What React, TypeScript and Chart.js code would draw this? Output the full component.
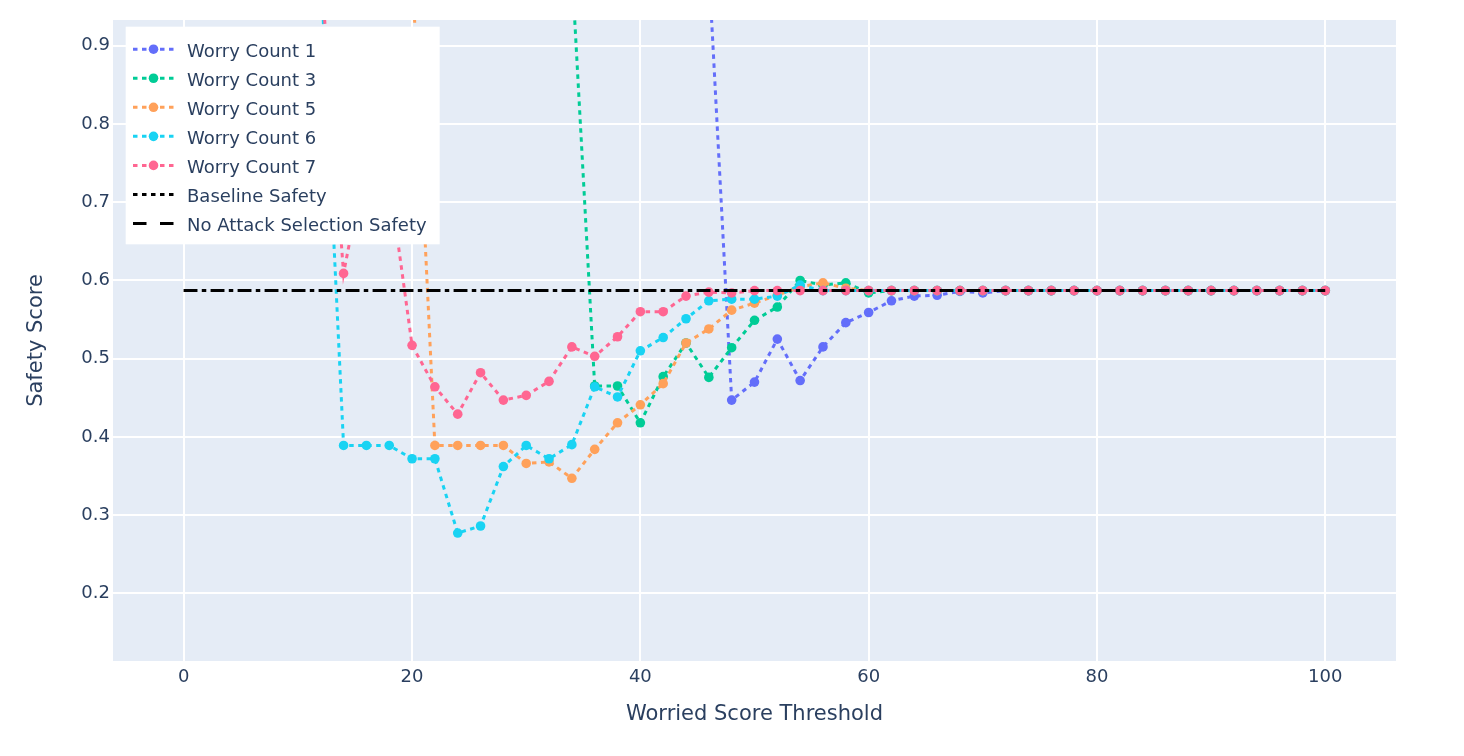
import React, { useEffect, useRef } from "react";
import { Chart, registerables } from "chart.js";

Chart.register(...registerables);

// ---------- data ----------
const thresholds = [
  0, 2, 4, 6, 8, 10, 12, 14, 16, 18, 20, 22, 24, 26, 28, 30, 32, 34, 36, 38, 40,
  42, 44, 46, 48, 50, 52, 54, 56, 58, 60, 62, 64, 66, 68, 70, 72, 74, 76, 78, 80,
  82, 84, 86, 88, 90, 92, 94, 96, 98, 100,
];

const worryCount1 = [
  1.0, 1.0, 1.0, 1.0, 1.0, 1.0, 1.0, 1.0, 1.0, 1.0, 1.0, 1.0, 1.0, 1.0, 1.0, 1.0,
  1.0, 1.0, 1.0, 1.0, 1.0, 1.0, 1.0, 1.0, 0.447, 0.47, 0.525, 0.472, 0.515, 0.546,
  0.559, 0.574, 0.58, 0.581, 0.586, 0.584, 0.587, 0.587, 0.587, 0.587, 0.587,
  0.587, 0.587, 0.587, 0.587, 0.587, 0.587, 0.587, 0.587, 0.587, 0.587,
];

const worryCount3 = [
  1.0, 1.0, 1.0, 1.0, 1.0, 1.0, 1.0, 1.0, 1.0, 1.0, 1.0, 1.0, 1.0, 1.0, 1.0, 1.0,
  1.0, 1.0, 0.465, 0.465, 0.418, 0.477, 0.52, 0.476, 0.514, 0.549, 0.566, 0.6,
  0.594, 0.597, 0.584, 0.587, 0.587, 0.587, 0.587, 0.587, 0.587, 0.587, 0.587,
  0.587, 0.587, 0.587, 0.587, 0.587, 0.587, 0.587, 0.587, 0.587, 0.587, 0.587,
  0.587,
];

const worryCount5 = [
  1.0, 1.0, 1.0, 1.0, 1.0, 1.0, 1.0, 1.0, 1.0, 1.0, 1.0, 0.389, 0.389, 0.389,
  0.389, 0.366, 0.368, 0.347, 0.384, 0.418, 0.441, 0.468, 0.52, 0.538, 0.562,
  0.571, 0.581, 0.592, 0.597, 0.59, 0.587, 0.587, 0.587, 0.587, 0.587, 0.587,
  0.587, 0.587, 0.587, 0.587, 0.587, 0.587, 0.587, 0.587, 0.587, 0.587, 0.587,
  0.587, 0.587, 0.587, 0.587,
];

const worryCount6 = [
  1.0, 1.0, 1.0, 1.0, 1.0, 1.0, 1.0, 0.389, 0.389, 0.389, 0.372, 0.372, 0.277,
  0.286, 0.362, 0.389, 0.372, 0.39, 0.464, 0.451, 0.51, 0.527, 0.551, 0.574,
  0.576, 0.576, 0.58, 0.594, 0.587, 0.587, 0.587, 0.587, 0.587, 0.587, 0.587,
  0.587, 0.587, 0.587, 0.587, 0.587, 0.587, 0.587, 0.587, 0.587, 0.587, 0.587,
  0.587, 0.587, 0.587, 0.587, 0.587,
];

const worryCount7 = [
  1.0, 1.0, 1.0, 1.0, 1.0, 1.0, 1.0, 0.609, 0.76, 0.73, 0.517, 0.464, 0.429,
  0.482, 0.447, 0.453, 0.471, 0.515, 0.503, 0.528, 0.56, 0.56, 0.58, 0.585,
  0.584, 0.587, 0.587, 0.587, 0.587, 0.587, 0.587, 0.587, 0.587, 0.587, 0.587,
  0.587, 0.587, 0.587, 0.587, 0.587, 0.587, 0.587, 0.587, 0.587, 0.587, 0.587,
  0.587, 0.587, 0.587, 0.587, 0.587,
];

const referenceX = [0, 100];
const baselineSafety = [0.587, 0.587];
const noAttackSelectionSafety = [0.587, 0.587];

const seriesLabels = [
  "Worry Count 1",
  "Worry Count 3",
  "Worry Count 5",
  "Worry Count 6",
  "Worry Count 7",
];
const seriesColors = ["#636efa", "#00cc96", "#FFA15A", "#19d3f3", "#FF6692"];
const seriesValues = [worryCount1, worryCount3, worryCount5, worryCount6, worryCount7];

const xTicks = [0, 20, 40, 60, 80, 100];
const yTicks = [0.2, 0.3, 0.4, 0.5, 0.6, 0.7, 0.8, 0.9];

// ---------- styling ----------
const TEXT = "#2a3f5f";
const FONT = '"DejaVu Sans", Verdana, sans-serif';

const toPoints = (xs: number[], ys: number[]) => xs.map((x, i) => ({ x, y: ys[i] }));

const plotBg = {
  id: "plotBg",
  beforeDraw(chart: any) {
    const { ctx, chartArea: a } = chart;
    ctx.save();
    ctx.fillStyle = "#E5ECF6";
    ctx.fillRect(a.left, a.top, a.right - a.left, a.bottom - a.top);
    ctx.restore();
  },
};

const legendBox = {
  id: "legendBox",
  afterDraw(chart: any) {
    const { ctx, chartArea: a } = chart;
    const x0 = a.left + 12.7;
    const y0 = a.top + 6.7;
    const w = 314;
    const h = 217.6;
    ctx.save();
    ctx.fillStyle = "#ffffff";
    ctx.fillRect(x0, y0, w, h);
    chart.data.datasets.forEach((ds: any, i: number) => {
      const cy = y0 + 22.5 + i * 29.05;
      const sx = x0 + 7.3;
      const ex = x0 + 48.3;
      ctx.strokeStyle = ds.borderColor;
      ctx.lineWidth = 3;
      ctx.setLineDash(ds.borderDash || []);
      ctx.beginPath();
      ctx.moveTo(sx, cy);
      ctx.lineTo(ex, cy);
      ctx.stroke();
      ctx.setLineDash([]);
      if (ds.pointRadius > 0) {
        ctx.fillStyle = ds.backgroundColor;
        ctx.beginPath();
        ctx.arc((sx + ex) / 2, cy, 4.8, 0, Math.PI * 2);
        ctx.fill();
      }
      ctx.fillStyle = TEXT;
      ctx.font = `18px ${FONT}`;
      ctx.textBaseline = "alphabetic";
      ctx.textAlign = "left";
      ctx.fillText(ds.label, x0 + 61.3, cy + 7.6);
    });
    ctx.restore();
  },
};

export default function App() {
  const canvasRef = useRef<HTMLCanvasElement | null>(null);

  useEffect(() => {
    document.body.style.margin = "0";
    const canvas = canvasRef.current;
    if (!canvas) return;

    const datasets: any[] = seriesLabels.map((label, i) => ({
      label,
      data: toPoints(thresholds, seriesValues[i]),
      borderColor: seriesColors[i],
      backgroundColor: seriesColors[i],
      borderWidth: 3,
      borderDash: [4.5, 4.5],
      pointRadius: 4.8,
      pointHoverRadius: 4.8,
      pointBorderWidth: 0,
      tension: 0,
      showLine: true,
      clip: 0,
      order: -i,
    }));
    datasets.push({
      label: "Baseline Safety",
      data: toPoints(referenceX, baselineSafety),
      borderColor: "#000000",
      backgroundColor: "#000000",
      borderWidth: 3,
      borderDash: [4.5, 4.5],
      pointRadius: 0,
      pointHoverRadius: 0,
      showLine: true,
      clip: 0,
      order: -5,
    });
    datasets.push({
      label: "No Attack Selection Safety",
      data: toPoints(referenceX, noAttackSelectionSafety),
      borderColor: "#000000",
      backgroundColor: "#000000",
      borderWidth: 3,
      borderDash: [13.5, 13.5],
      pointRadius: 0,
      pointHoverRadius: 0,
      showLine: true,
      clip: 0,
      order: -6,
    });

    const chart = new Chart(canvas, {
      type: "scatter",
      data: { datasets },
      plugins: [plotBg, legendBox],
      options: {
        animation: false,
        responsive: false,
        events: [],
        layout: { padding: { left: 0, right: 68, top: 20, bottom: 0 } },
        plugins: {
          legend: { display: false },
          tooltip: { enabled: false },
        },
        scales: {
          x: {
            type: "linear",
            min: -6.2,
            max: 106.2,
            afterBuildTicks: (scale: any) => {
              scale.ticks = xTicks.map((v) => ({ value: v }));
            },
            afterFit: (scale: any) => {
              scale.height = 95;
            },
            grid: { color: "#ffffff", lineWidth: 2, drawTicks: false },
            border: { display: false },
            ticks: {
              autoSkip: false,
              maxRotation: 0,
              padding: 6,
              color: TEXT,
              font: { family: FONT, size: 18 },
              callback: (v: any) => String(v),
            },
            title: {
              display: true,
              text: "Worried Score Threshold",
              color: TEXT,
              font: { family: FONT, size: 21 },
              padding: { top: 0, bottom: 28.4 },
            },
          },
          y: {
            type: "linear",
            min: 0.1134,
            max: 0.933,
            afterBuildTicks: (scale: any) => {
              scale.ticks = yTicks.map((v) => ({ value: v }));
            },
            afterFit: (scale: any) => {
              scale.width = 113;
            },
            grid: { color: "#ffffff", lineWidth: 2, drawTicks: false },
            border: { display: false },
            ticks: {
              autoSkip: false,
              padding: 3,
              color: TEXT,
              font: { family: FONT, size: 18 },
              callback: (v: any) => Number(v).toFixed(1),
            },
            title: {
              display: true,
              text: "Safety Score",
              color: TEXT,
              font: { family: FONT, size: 21 },
              padding: { top: 23.5, bottom: 0 },
            },
          },
        },
      } as any,
    });

    return () => chart.destroy();
  }, []);

  return (
    <div style={{ width: 1464, height: 756, background: "#ffffff" }}>
      <canvas ref={canvasRef} width={1464} height={756} style={{ display: "block" }} />
    </div>
  );
}
